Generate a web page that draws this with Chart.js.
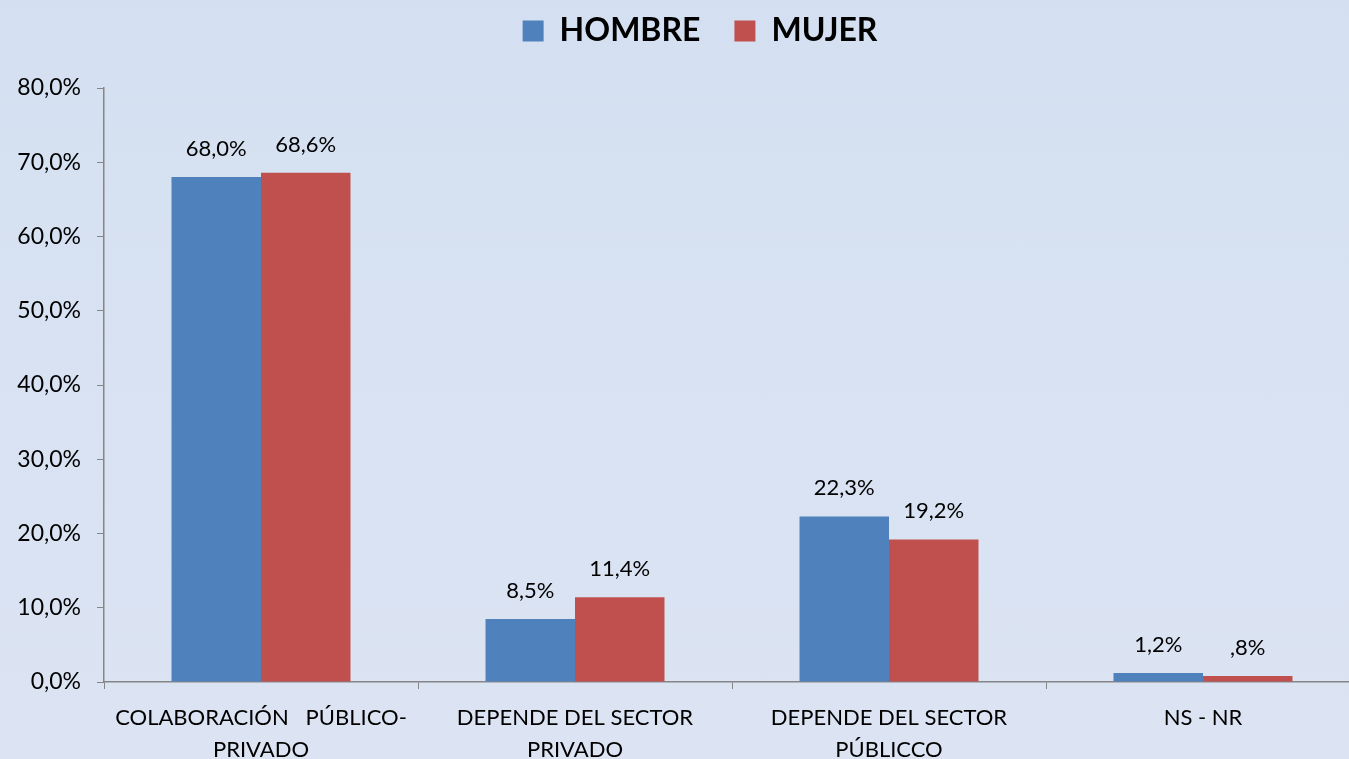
<!DOCTYPE html>
<html><head><meta charset="utf-8">
<script src="https://cdn.jsdelivr.net/npm/chart.js@4/dist/chart.umd.min.js"></script>
<style>
html,body{margin:0;padding:0;overflow:hidden;width:1349px;height:759px;background:linear-gradient(#d4e0f1,#dce4f3);}
#wrap{width:1360px;height:759px;position:relative;}
</style></head><body>
<div id="wrap"><canvas id="c" width="1360" height="759"></canvas></div>
<script>
const categories = [["COLABORACIÓN   PÚBLICO-","PRIVADO"],["DEPENDE DEL SECTOR","PRIVADO"],["DEPENDE DEL SECTOR","PÚBLICCO"],"NS - NR"];
const seriesNames = ["HOMBRE","MUJER"];
const hombre = [68.0, 8.5, 22.3, 1.2];
const mujer = [68.6, 11.4, 19.2, 0.8];
const yTicks = [0,10,20,30,40,50,60,70,80];
const colors = ["#4f81bd","#c0504d"];
const FONT = "Lato, 'Liberation Sans', Arial, sans-serif";

function fmt(v){ let s = v.toFixed(1).replace('.',','); if (s.startsWith('0,')) s = s.slice(1); return s + '%'; }

const labelPlugin = {
  id:'vlabels',
  afterDatasetsDraw(chart){
    const ctx = chart.ctx;
    ctx.save();
    ctx.fillStyle = '#000';
    ctx.font = '22px ' + FONT;
    ctx.textAlign = 'center';
    ctx.textBaseline = 'alphabetic';
    chart.data.datasets.forEach((ds,i)=>{
      chart.getDatasetMeta(i).data.forEach((bar,j)=>{
        ctx.fillText(fmt(ds.data[j]), bar.x, bar.y - 21);
      });
    });
    ctx.restore();
  }
};

const legendFit = {
  id:'legendFit',
  afterInit(chart){
    const lg = chart.legend;
    const origFit = lg.fit;
    const origDraw = lg.draw;
    lg.fit = function(){ origFit.call(this); this.height = 88; };
    lg.draw = function(){
      const ctx = this.ctx;
      ctx.save();
      ctx.translate(20, -19);
      origDraw.call(this);
      ctx.restore();
    };
  }
};

new Chart(document.getElementById('c'), {
  type:'bar',
  data:{
    labels: categories,
    datasets:[
      {label:seriesNames[0], data:hombre, backgroundColor:colors[0], borderWidth:0},
      {label:seriesNames[1], data:mujer, backgroundColor:colors[1], borderWidth:0}
    ]
  },
  options:{
    responsive:false,
    animation:false,
    layout:{padding:{top:0,left:0,right:0,bottom:0}},
    categoryPercentage:0.57,
    barPercentage:1.0,
    plugins:{
      legend:{
        position:'top',
        labels:{font:{family:FONT,size:32,weight:'bold'},color:'#000',boxWidth:21,boxHeight:21,padding:34},
        onClick:null
      },
      tooltip:{enabled:false}
    },
    scales:{
      y:{
        min:0,max:80,
        afterBuildTicks(s){ s.ticks = yTicks.map(v=>({value:v})); },
        afterFit(s){ s.width = 104; },
        ticks:{callback:v=>v.toFixed(1).replace('.',',')+'%',font:{family:FONT,size:23},color:'#000',padding:16},
        grid:{display:true,drawOnChartArea:false,drawTicks:true,tickLength:7,color:'#868686',lineWidth:1},
        border:{display:true,color:'#868686',width:1.5}
      },
      x:{
        afterFit(s){ s.height = 77; },
        ticks:{font:{family:FONT,size:22,lineHeight:1.45},color:'#000',padding:13,maxRotation:0,autoSkip:false},
        grid:{display:true,drawOnChartArea:false,drawTicks:true,tickLength:7,color:'#868686',offset:true},
        border:{display:true,color:'#868686',width:1.5}
      }
    }
  },
  plugins:[labelPlugin, legendFit]
});
</script>
</body></html>
